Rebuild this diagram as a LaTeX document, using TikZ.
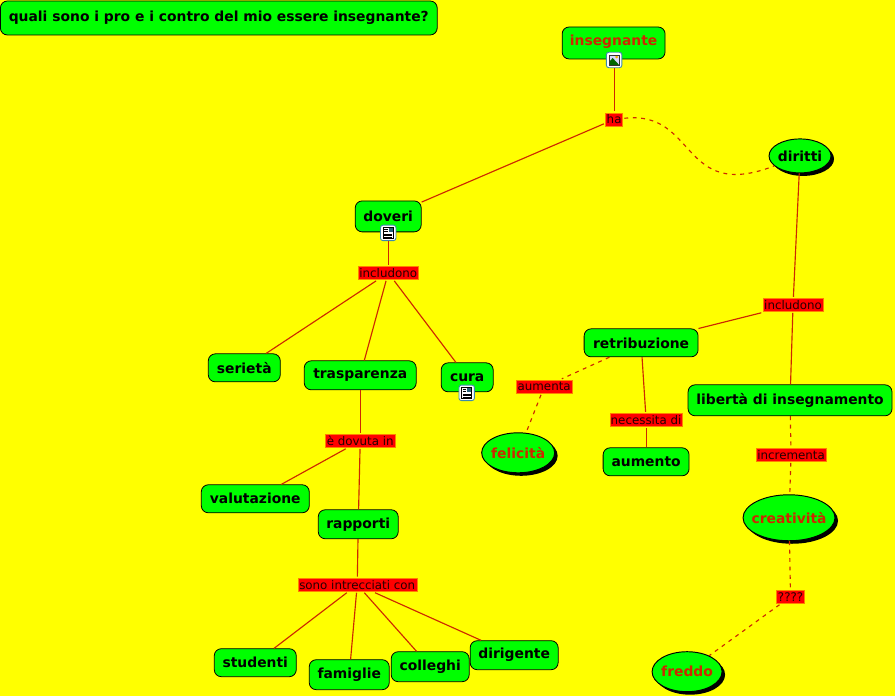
\documentclass[tikz,border=0pt]{standalone}
\usepackage{fontspec}
\setmainfont{DejaVu Sans}
\usepackage{tikz}
\usetikzlibrary{positioning,shapes.geometric,shadows}
\definecolor{bgyellow}{RGB}{255,255,0}
\definecolor{linkred}{RGB}{205,40,0}
\definecolor{boxgreen}{RGB}{0,255,0}
\definecolor{linkfill}{RGB}{255,0,0}
\definecolor{iconblue}{RGB}{60,140,170}

\begin{document}
\begin{tikzpicture}[
        font=\fontsize{6.75}{8}\selectfont,
        concept/.style={rectangle, rounded corners=1.4mm, draw=black, line width=0.45pt, fill=boxgreen,
                        inner sep=0pt, align=center, font=\fontsize{7.9}{9}\selectfont\bfseries},
        oval/.style={ellipse, draw=black, line width=0.55pt, fill=boxgreen, inner xsep=-3.5pt, inner ysep=-1pt,
                     font=\fontsize{7.9}{9}\selectfont\bfseries,
                     drop shadow={shadow xshift=0.06cm, shadow yshift=-0.06cm, fill=black, opacity=1}},
        linker/.style={rectangle, fill=linkfill, draw=orange, line width=0.2pt, inner sep=0pt, text=black!85!red,
                       minimum height=2.5mm, outer sep=1pt},
        icon/.style={rectangle, rounded corners=0.5mm, draw=iconblue, line width=0.5pt, fill=white,
                     minimum size=3.1mm, inner sep=0pt},
        link/.style={draw=linkred, line width=0.65pt},
        dashlink/.style={link, dash pattern=on 2.2pt off 2.6pt},
    ]
        \fill[bgyellow] (0,0) rectangle (17.9,-13.92);

        % concetti
        \foreach \id/\x/\y/\w/\h/\txt in {
            title/4.37/-0.36/8.74/0.68/{quali sono i pro e i contro del mio essere insegnante?},
            doveri/7.76/-4.33/1.32/0.62/doveri,
            serieta/4.88/-7.36/1.44/0.56/serietà,
            trasparenza/7.2/-7.51/2.24/0.58/trasparenza,
            cura/9.34/-7.55/1.04/0.58/cura,
            valutazione/5.1/-9.98/2.16/0.56/valutazione,
            rapporti/7.16/-10.49/1.6/0.58/rapporti,
            studenti/5.1/-13.26/1.64/0.56/studenti,
            famiglie/6.98/-13.5/1.6/0.6/famiglie,
            colleghi/8.6/-13.34/1.56/0.6/colleghi,
            dirigente/10.28/-13.11/1.76/0.58/dirigente,
            retribuzione/12.82/-6.86/2.28/0.56/retribuzione,
            liberta/15.8/-8.01/4.08/0.62/libertà di insegnamento,
            aumento/12.92/-9.24/1.72/0.56/aumento}
            \node[concept, minimum width=\w cm, minimum height=\h cm] (\id) at (\x,\y) {\txt};
        \node[concept, minimum width=2.06cm, minimum height=0.64cm, text=linkred] (insegnante) at (12.27,-0.86)
            {\raisebox{1.2mm}{insegnante}};

        % ovali
        \node[oval, minimum width=1.24cm, minimum height=0.68cm] (diritti) at (16,-3.12) {diritti};
        \node[oval, minimum width=1.46cm, minimum height=0.8cm, text=linkred] (felicita) at (10.36,-9.06) {felicità};
        \node[oval, minimum width=1.84cm, minimum height=0.92cm, text=linkred] (creativita) at (15.78,-10.36) {creatività};
        \node[oval, minimum width=1.4cm, minimum height=0.8cm, text=linkred] (freddo) at (13.74,-13.44) {freddo};

        % frasi legame
        \foreach \id/\x/\y/\w/\txt in {
            ha/12.28/-2.39/0.34/ha,
            inclA/7.76/-5.46/1.2/includono,
            dovuta/7.2/-8.82/1.4/è dovuta in,
            intrecciati/7.14/-11.7/2.38/sono intrecciati con,
            inclB/15.86/-6.1/1.2/includono,
            aumenta/10.88/-7.74/1.12/aumenta,
            necessita/12.92/-8.4/1.44/necessita di,
            incrementa/15.82/-9.1/1.4/incrementa,
            dubbio/15.81/-11.94/0.56/????}
            \node[linker, minimum width=\w cm] (\id) at (\x,\y) {\txt};

        % icone
        \node[icon] (iconins) at (12.28,-1.2) {};
        \fill[blue!15] (12.18,-1.1) rectangle (12.38,-1.3);
        \fill[green!40!black] (12.18,-1.3) -- (12.18,-1.24) -- (12.25,-1.16) -- (12.38,-1.3) -- cycle;
        \fill[orange!60!yellow] (12.33,-1.14) circle (0.03);
        \draw[black!80, line width=0.3pt] (12.18,-1.1) rectangle (12.38,-1.3);
        \foreach \id/\x/\y in {icondov/7.76/-4.66, iconcura/9.33/-7.86} {
            \node[icon] (\id) at (\x,\y) {};
            \draw[black, line width=0.3pt] (\x-0.1,\y+0.11) rectangle (\x+0.1,\y-0.11);
            \fill[iconblue!70!black] (\x+0.01,\y+0.09) rectangle (\x+0.09,\y+0.01);
            \foreach \d in {-0.02,-0.055,-0.09} \draw[black, line width=0.3pt] (\x-0.08,\y+\d) -- (\x+0.08,\y+\d);
            \foreach \d in {0.07,0.035} \draw[black, line width=0.3pt] (\x-0.08,\y+\d) -- (\x-0.01,\y+\d);
        }

        % collegamenti
        \draw[link] (iconins) -- (ha);
        \draw[link] (ha) -- (doveri);
        \draw[dashlink] (ha) .. controls (13.95,-2.2) and (13.6,-4.05) .. (diritti);
        \draw[link] (icondov) -- (inclA);
        \foreach \a in {serieta, trasparenza, cura} \draw[link] (inclA) -- (\a);
        \draw[link] (trasparenza) -- (dovuta);
        \draw[link] (dovuta) -- (valutazione);
        \draw[link] (dovuta) -- (rapporti);
        \draw[link] (rapporti) -- (intrecciati);
        \foreach \a in {studenti, famiglie, colleghi, dirigente} \draw[link] (intrecciati) -- (\a);
        \draw[link] (diritti) -- (inclB);
        \draw[link] (inclB) -- (retribuzione);
        \draw[link] (inclB) -- (liberta);
        \draw[dashlink] (retribuzione) -- (aumenta);
        \draw[dashlink] (aumenta) -- (felicita);
        \draw[link] (retribuzione) -- (necessita);
        \draw[link] (necessita) -- (aumento);
        \draw[dashlink] (liberta) -- (incrementa);
        \draw[dashlink] (incrementa) -- (creativita);
        \draw[dashlink] (creativita) -- (dubbio);
        \draw[dashlink] (dubbio) -- (freddo);
    \end{tikzpicture}
\end{document}
